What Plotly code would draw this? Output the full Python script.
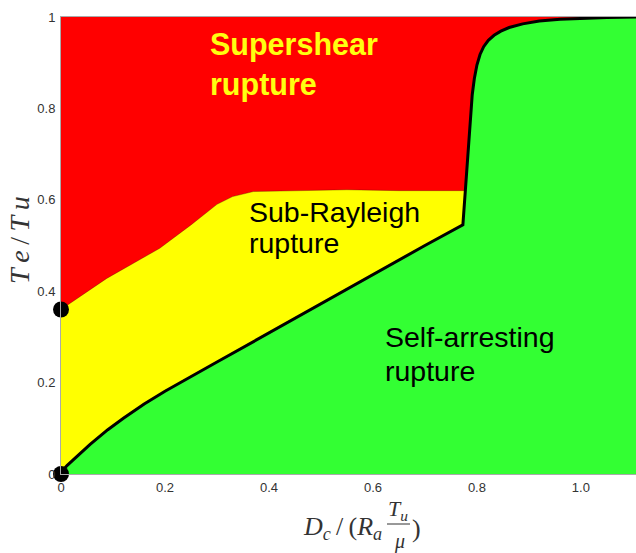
import plotly.graph_objects as go

# ---- data ----
# lower boundary: sub-Rayleigh / self-arresting (black line)
low_x = [0, 0.005, 0.012, 0.024, 0.04, 0.056, 0.09, 0.12, 0.16, 0.2, 0.3, 0.4, 0.5, 0.6, 0.7, 0.773]
low_y = [0, 0.01, 0.019, 0.032, 0.049, 0.065, 0.097, 0.122, 0.153, 0.181, 0.245, 0.309, 0.373, 0.437, 0.5, 0.545]
# steep boundary: self-arresting / supershear (black line)
up_x = [0.773, 0.776, 0.779, 0.782, 0.785, 0.788, 0.791, 0.795, 0.8, 0.806, 0.813, 0.822,
        0.833, 0.846, 0.862, 0.888, 0.92, 0.96, 1.0, 1.05, 1.106]
up_y = [0.545, 0.59, 0.64, 0.69, 0.74, 0.79, 0.83, 0.865, 0.895, 0.918, 0.935, 0.949,
        0.96, 0.969, 0.977, 0.985, 0.991, 0.995, 0.997, 0.999, 1.0]
# red / yellow boundary
ry_x = [0, 0.088, 0.19, 0.25, 0.3, 0.33, 0.37, 0.45, 0.55, 0.65, 0.7765]
ry_y = [0.36, 0.428, 0.494, 0.545, 0.59, 0.607, 0.618, 0.62, 0.622, 0.62, 0.62]
# highlighted points on the y axis
pt_x = [0, 0]
pt_y = [0, 0.36]

x_max = 1.106
xtick_vals = [0, 0.2, 0.4, 0.6, 0.8, 1.0]
xtick_text = ["0", "0.2", "0.4", "0.6", "0.8", "1.0"]
ytick_vals = [0, 0.2, 0.4, 0.6, 0.8, 1.0]
ytick_text = ["0", "0.2", "0.4", "0.6", "0.8", "1"]

RED = "#FF0000"
YELLOW = "#FFFF00"
GREEN = "#33FF33"

fig = go.Figure()

# yellow region
yel_x = ry_x + up_x[1::-1][:1] + low_x[::-1]
yel_y = ry_y + up_y[1::-1][:1] + low_y[::-1]
fig.add_trace(go.Scatter(x=yel_x, y=yel_y, fill="toself", fillcolor=YELLOW,
                         mode="lines", line=dict(width=0), hoverinfo="skip", showlegend=False))
# green region
gr_x = low_x + up_x[1:] + [x_max, 0]
gr_y = low_y + up_y[1:] + [0, 0]
fig.add_trace(go.Scatter(x=gr_x, y=gr_y, fill="toself", fillcolor=GREEN,
                         mode="lines", line=dict(width=0), hoverinfo="skip", showlegend=False))
# faint red/yellow edge
fig.add_trace(go.Scatter(x=ry_x, y=ry_y, mode="lines",
                         line=dict(color="rgba(60,0,0,0.3)", width=1), hoverinfo="skip", showlegend=False))
# black boundary
fig.add_trace(go.Scatter(x=low_x + up_x[1:], y=low_y + up_y[1:], mode="lines",
                         line=dict(color="black", width=3),
                         hoverinfo="skip", showlegend=False, cliponaxis=True))
# dots
fig.add_trace(go.Scatter(x=pt_x, y=pt_y, mode="markers",
                         marker=dict(color="black", size=16), cliponaxis=False,
                         hoverinfo="skip", showlegend=False))

L, T, B = 61, 17, 79
W, H = 636, 553
pw, ph = W - L, H - T - B


def px(xp):
    return (xp - L) / pw


def py(yp):
    return (H - B - yp) / ph


annos = []
sans = "Liberation Sans, Arial, sans-serif"
serif = "Liberation Serif, Times New Roman, serif"
TS = "\u2009"
# region labels
for txt, x, y in [("Supershear", 0.283, 0.94), ("rupture", 0.283, 0.852)]:
    annos.append(dict(x=x, y=y, xref="x", yref="y", text="<b>%s</b>" % txt, showarrow=False,
                      xanchor="left", yanchor="middle",
                      font=dict(family=sans, size=30.5, color="#FFFF10")))
for txt, x, y in [("Sub-Rayleigh", 0.357, 0.573), ("rupture", 0.357, 0.505),
                  ("Self-arresting", 0.62, 0.30), ("rupture", 0.62, 0.225)]:
    annos.append(dict(x=x, y=y, xref="x", yref="y", text=txt, showarrow=False,
                      xanchor="left", yanchor="middle",
                      font=dict(family=sans, size=28.5, color="black")))

# axis titles
tcol = "#333333"
annos.append(dict(x=px(20), y=py(240), xref="paper", yref="paper",
                  text="<i>T" + TS + "e</i>" + TS + "/" + TS + "<i>T" + TS + "u</i>",
                  textangle=-90, showarrow=False, xanchor="center", yanchor="middle",
                  font=dict(family=serif, size=28, color=tcol)))
annos.append(dict(x=px(384), y=py(528), xref="paper", yref="paper",
                  text="<i>D</i><sub><i>c</i></sub>" + TS + "/" + TS + "(<i>R</i><sub><i>a</i></sub>",
                  showarrow=False, xanchor="right", yanchor="middle",
                  font=dict(family=serif, size=26, color=tcol)))
annos.append(dict(x=px(398), y=py(510), xref="paper", yref="paper",
                  text="<i>T</i><sub><i>u</i></sub>",
                  showarrow=False, xanchor="center", yanchor="middle",
                  font=dict(family=serif, size=22, color=tcol)))
annos.append(dict(x=px(399), y=py(541), xref="paper", yref="paper",
                  text="<i>μ</i>",
                  showarrow=False, xanchor="center", yanchor="middle",
                  font=dict(family=serif, size=20, color=tcol)))
annos.append(dict(x=px(416), y=py(528), xref="paper", yref="paper",
                  text=")",
                  showarrow=False, xanchor="center", yanchor="middle",
                  font=dict(family=serif, size=26, color=tcol)))

fig.update_layout(
    width=W, height=H,
    margin=dict(l=L, r=0, t=T, b=B, pad=0),
    paper_bgcolor="white", plot_bgcolor=RED,
    annotations=annos,
    shapes=[dict(type="line", xref="paper", yref="paper",
                 x0=px(387), x1=px(410), y0=py(524), y1=py(524),
                 line=dict(color=tcol, width=1))],
    xaxis=dict(range=[0, x_max], showgrid=False, zeroline=False,
               tickvals=xtick_vals, ticktext=xtick_text,
               ticks="outside", ticklen=1, tickcolor="rgba(0,0,0,0)",
               tickfont=dict(family=sans, size=13, color="#333"),
               showline=True, linecolor="#aaaaaa", linewidth=1, mirror=True),
    yaxis=dict(range=[0, 1], showgrid=False, zeroline=False,
               tickvals=ytick_vals, ticktext=ytick_text,
               ticks="outside", ticklen=2, tickcolor="rgba(0,0,0,0)",
               tickfont=dict(family=sans, size=13, color="#333"),
               showline=True, linecolor="#aaaaaa", linewidth=1, mirror=True),
)

fig.write_html("out.html")
